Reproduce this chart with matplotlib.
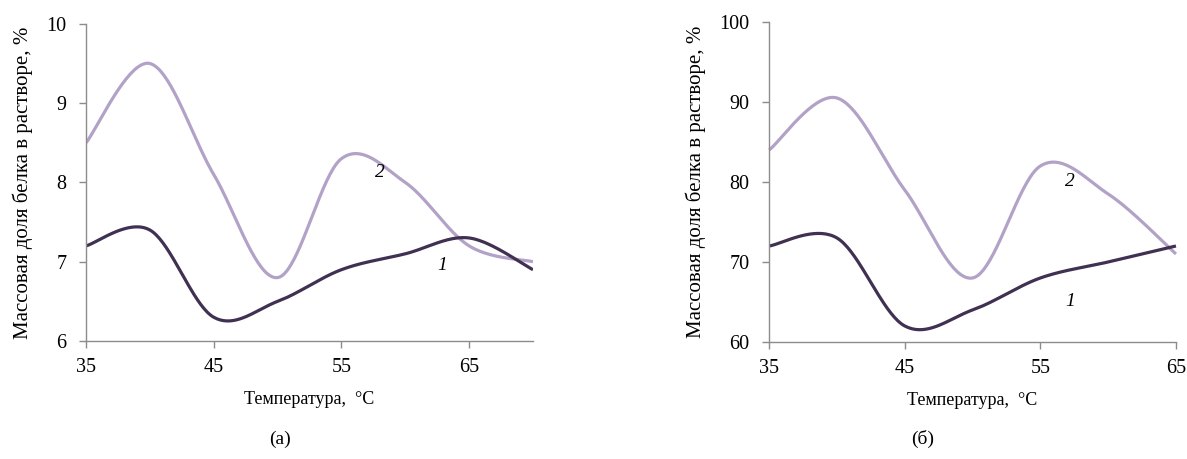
import numpy as np
import matplotlib
matplotlib.use("Agg")
import matplotlib.pyplot as plt

plt.rcParams['font.family'] = ['Liberation Serif', 'DejaVu Serif']

# --- data (a) ---
temp_a = [35, 40, 45, 50, 55, 60, 65, 70]
series1_a = [7.2, 7.4, 6.3, 6.5, 6.9, 7.1, 7.3, 6.9]
series2_a = [8.5, 9.5, 8.1, 6.8, 8.3, 8.0, 7.2, 7.0]

# --- data (б) ---
temp_b = [35, 40, 45, 50, 55, 60, 65]
series1_b = [72, 73, 62, 64, 68, 70, 72]
series2_b = [84, 90.5, 79, 68, 82, 78.5, 71]

xticks = [35, 45, 55, 65]

DARK = '#403152'
LIGHT = '#b3a2c7'
AXIS = '#8c8c8c'


def smooth(x, y, n=40):
    # Excel-like smoothed line: cubic Bezier through points (Catmull-Rom tangents)
    x = np.asarray(x, float)
    y = np.asarray(y, float)
    px = np.concatenate([[x[0]], x, [x[-1]]])
    py = np.concatenate([[y[0]], y, [y[-1]]])
    t = np.linspace(0, 1, n)
    xs, ys = [], []
    for i in range(1, len(px) - 2):
        x0, x1, x2, x3 = px[i - 1], px[i], px[i + 1], px[i + 2]
        y0, y1, y2, y3 = py[i - 1], py[i], py[i + 1], py[i + 2]
        cx1, cy1 = x1 + (x2 - x0) / 6, y1 + (y2 - y0) / 6
        cx2, cy2 = x2 - (x3 - x1) / 6, y2 - (y3 - y1) / 6
        b0, b1, b2, b3 = (1 - t) ** 3, 3 * t * (1 - t) ** 2, 3 * t ** 2 * (1 - t), t ** 3
        xs.append(b0 * x1 + b1 * cx1 + b2 * cx2 + b3 * x2)
        ys.append(b0 * y1 + b1 * cy1 + b2 * cy2 + b3 * y2)
    return np.concatenate(xs), np.concatenate(ys)


def style_axes(ax):
    for s in ['top', 'right']:
        ax.spines[s].set_visible(False)
    for s in ['left', 'bottom']:
        ax.spines[s].set_color(AXIS)
        ax.spines[s].set_linewidth(1.0)
    ax.tick_params(direction='out', length=5, width=1.0, color=AXIS,
                   labelsize=14.5, labelcolor='black')
    ax.tick_params(axis='x', pad=7)
    ax.tick_params(axis='y', pad=9)
    ax.set_xticks(xticks)
    ax.set_ylabel('Массовая доля белка в растворе, %', fontsize=15, labelpad=10)
    ax.set_xlabel('Температура,  °С', fontsize=13, labelpad=10)


fig = plt.figure(figsize=(11.87, 4.59), dpi=100)

ax1 = fig.add_axes([0.0725, 0.257, 0.3765, 0.691])
for ys, c in [(series2_a, LIGHT), (series1_a, DARK)]:
    sx, sy = smooth(temp_a, ys)
    ax1.plot(sx, sy, color=c, lw=2.3, solid_capstyle='butt')
ax1.set_xlim(35, 70)
ax1.set_ylim(6, 10)
ax1.set_yticks([6, 7, 8, 9, 10])
style_axes(ax1)
ax1.text(58.0, 8.13, '2', fontsize=14, style='italic', ha='center', va='center')
ax1.text(62.9, 6.95, '1', fontsize=14, style='italic', ha='center', va='center')

ax2 = fig.add_axes([0.648, 0.255, 0.3427, 0.697])
for ys, c in [(series2_b, LIGHT), (series1_b, DARK)]:
    sx, sy = smooth(temp_b, ys)
    ax2.plot(sx, sy, color=c, lw=2.3, solid_capstyle='butt', clip_on=False)
ax2.set_xlim(35, 65)
ax2.set_ylim(60, 100)
ax2.set_yticks([60, 70, 80, 90, 100])
style_axes(ax2)
ax2.text(57.2, 80.1, '2', fontsize=14, style='italic', ha='center', va='center')
ax2.text(57.2, 65.1, '1', fontsize=14, style='italic', ha='center', va='center')

fig.text(280 / 1187, 1 - 439 / 459, '(а)', fontsize=14, ha='center', va='center')
fig.text(923 / 1187, 1 - 439 / 459, '(б)', fontsize=14, ha='center', va='center')

fig.savefig('out.png', dpi=100)
